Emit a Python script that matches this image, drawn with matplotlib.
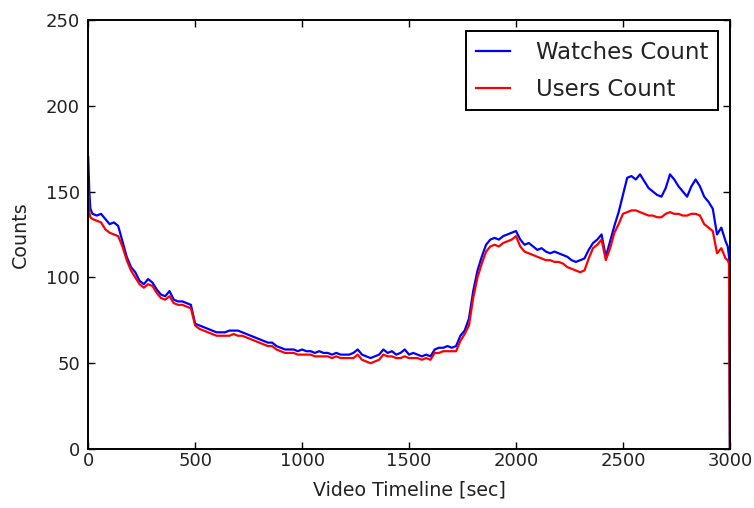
import matplotlib
matplotlib.use("Agg")
import matplotlib.pyplot as plt

# sample times (seconds into the video)
time_sec = [0, 5, 10] + list(range(20, 3000, 20)) + [2990, 2996, 3000]

watches_count = [
    170, 150, 140,
    137, 136, 137, 134, 131, 132, 130, 121, 112, 106,
    103, 98, 96, 99, 97, 93, 90, 89, 92, 87,
    86, 86, 85, 84, 73, 72, 71, 70, 69, 68,
    68, 68, 69, 69, 69, 68, 67, 66, 65, 64,
    63, 62, 62, 60, 59, 58, 58, 58, 57, 58,
    57, 57, 56, 57, 56, 56, 55, 56, 55, 55,
    55, 56, 58, 55, 54, 53, 54, 55, 58, 56,
    57, 55, 56, 58, 55, 56, 55, 54, 55, 54,
    58, 59, 59, 60, 59, 60, 66, 69, 76, 92,
    104, 112, 119, 122, 123, 122, 124, 125, 126, 127,
    122, 119, 120, 118, 116, 117, 115, 114, 115, 114,
    113, 112, 110, 109, 110, 111, 116, 120, 122, 125,
    112, 121, 130, 138, 148, 158, 159, 157, 160, 156,
    152, 150, 148, 147, 152, 160, 157, 153, 150, 147,
    153, 157, 153, 147, 144, 140, 125, 129, 121,
    118, 112, 0,
]

users_count = [
    150, 138, 135,
    134, 133, 132, 128, 126, 125, 124, 118, 110, 104,
    100, 96, 94, 96, 95, 91, 88, 87, 89, 85,
    84, 84, 83, 82, 72, 70, 69, 68, 67, 66,
    66, 66, 66, 67, 66, 66, 65, 64, 63, 62,
    61, 60, 60, 58, 57, 56, 56, 56, 55, 55,
    55, 55, 54, 54, 54, 54, 53, 54, 53, 53,
    53, 53, 55, 52, 51, 50, 51, 52, 55, 54,
    54, 53, 53, 54, 53, 53, 53, 52, 53, 52,
    56, 56, 57, 57, 57, 57, 63, 67, 72, 88,
    100, 108, 115, 118, 119, 118, 120, 121, 122, 124,
    118, 115, 114, 113, 112, 111, 110, 110, 109, 109,
    108, 106, 105, 104, 103, 104, 111, 117, 119, 122,
    110, 117, 126, 131, 137, 138, 139, 139, 138, 137,
    136, 136, 135, 135, 137, 138, 137, 137, 136, 136,
    137, 137, 136, 131, 129, 127, 114, 117, 111,
    110, 108, 0,
]

fig = plt.figure(figsize=(7.54, 5.08), dpi=100)
ax = fig.add_axes([0.117, 0.116, 0.851, 0.845])

ax.plot(time_sec, watches_count, color="blue", lw=1.6, label="Watches Count")
ax.plot(time_sec, users_count, color="red", lw=1.6, label="Users Count")

ax.set_xlim(0, 3000)
ax.set_ylim(0, 250)
ax.set_xticks(range(0, 3001, 500))
ax.set_yticks(range(0, 251, 50))
ax.tick_params(direction="in", top=True, right=True, length=5, width=1,
               labelsize=13, labelcolor="#222222")
ax.tick_params(axis="x", pad=2)
ax.tick_params(axis="y", pad=6)
for sp in ax.spines.values():
    sp.set_linewidth(1.4)

ax.set_xlabel("Video Timeline [sec]", fontsize=13.7, labelpad=8, color="#222222")
ax.set_ylabel("Counts", fontsize=13.7, labelpad=11, color="#222222")

leg = ax.legend(loc="upper right", fontsize=16.5, fancybox=False, framealpha=1,
                edgecolor="black", handlelength=1.5, handletextpad=1.15,
                labelspacing=0.6, borderpad=0.42, borderaxespad=0.5)
leg.get_frame().set_linewidth(1.4)
for txt in leg.get_texts():
    txt.set_color("#222222")

fig.savefig("out.png", dpi=100, facecolor="white")
